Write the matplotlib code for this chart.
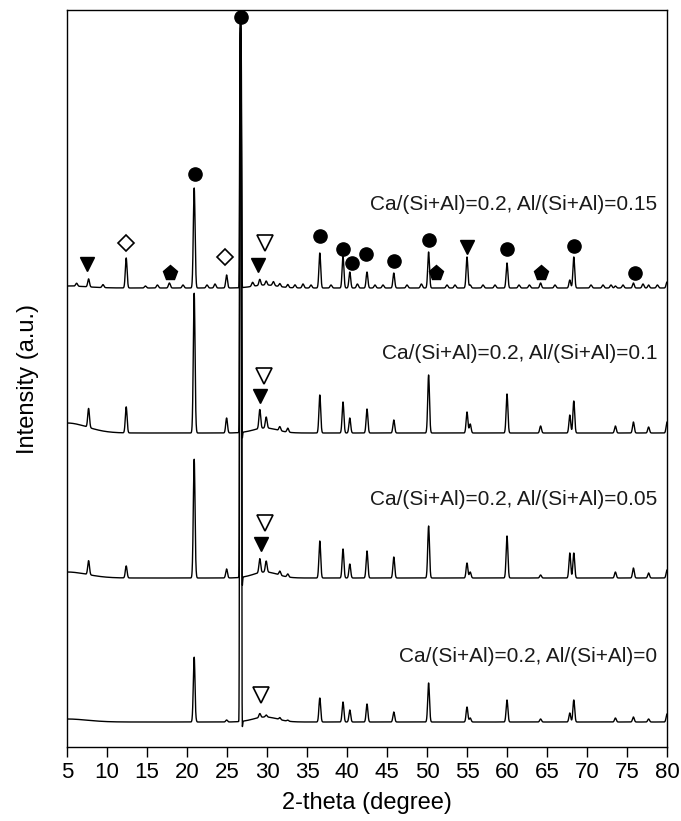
import numpy as np
import matplotlib
matplotlib.use("Agg")
import matplotlib.pyplot as plt

plt.rcParams['font.family'] = ['Liberation Sans', 'DejaVu Sans']

# peak positions (2-theta) shared by all patterns
peak_pos = [7.7, 12.4, 20.9, 24.95, 26.7, 29.1, 29.9, 31.6, 32.6, 36.6, 39.5, 40.35,
            42.5, 45.85, 50.2, 55.0, 55.4, 60.0, 64.2, 67.85, 68.35, 73.55, 75.8, 77.7, 80.0]

# peak heights for each sample (a.u.), same order as peak_pos
h_015 = [8, 30, 100, 13, 271, 6, 4, 3, 3, 35, 32, 16,
         16, 15, 36, 31, 3, 25, 5, 8, 31, 2, 5, 3, 6]
h_010 = [19, 26, 140, 15, 400, 19, 11, 4, 4, 38, 31, 15,
         24, 13, 58, 21, 9, 39, 7, 18, 32, 7, 11, 6, 11]
h_005 = [14, 12, 119, 9, 550, 14, 11, 4, 3, 37, 29, 14,
         27, 21, 52, 15, 6, 42, 3, 25, 25, 6, 10, 5, 8]
h_000 = [0, 0, 65, 2, 700, 4, 2, 2, 1, 24, 20, 12,
         18, 10, 39, 15, 4, 22, 3, 9, 22, 4, 5, 3, 8]

# negative artefacts next to the strong peaks
dip_pos = [21.05, 26.85]
dip_015 = [0, 0]
dip_010 = [-6, -14]
dip_005 = [-6, -20]
dip_000 = [-5, -15]

# broad amorphous hump (~29.5) and low-angle background
hump = [3, 5, 6, 5]
low_bg = [2, 10, 6, 3]

# small bumps in the noisy top pattern
bump_pos = [6.2, 9.5, 14.8, 16.3, 17.8, 19.5, 22.5, 23.5, 28.2, 30.8, 33.5, 34.5,
            35.5, 38.0, 41.3, 43.5, 44.5, 47.5, 49.3, 52.5, 53.5, 57.0, 58.5, 61.5,
            62.8, 66.0, 70.5, 72.0, 73.0, 74.5, 77.0, 78.8]
bump_h = [3, 3, 2, 3, 5, 3, 3, 4, 4, 4, 3, 4,
          3, 3, 4, 3, 3, 3, 4, 3, 3, 3, 3, 3,
          3, 3, 3, 3, 3, 3, 4, 3]

offsets = [459, 314, 169, 25]
labels = ["Ca/(Si+Al)=0.2, Al/(Si+Al)=0.15",
          "Ca/(Si+Al)=0.2, Al/(Si+Al)=0.1",
          "Ca/(Si+Al)=0.2, Al/(Si+Al)=0.05",
          "Ca/(Si+Al)=0.2, Al/(Si+Al)=0"]
label_y = [543, 394, 248, 91]

# phase markers: (2-theta, height)
m_dot = [(21.0, 573), (26.75, 730), (36.6, 511), (39.5, 498), (40.6, 484), (42.4, 493),
         (45.9, 486), (50.25, 507), (60.0, 498), (68.4, 501), (76.0, 474)]
m_tri = [(7.55, 483), (28.9, 482), (55.0, 500), (29.1, 351), (29.25, 203)]
m_otri = [(29.75, 504), (29.67, 371), (29.75, 224), (29.3, 52)]
m_diam = [(12.4, 504), (24.75, 490)]
m_pent = [(17.9, 474), (51.1, 474), (64.2, 474)]

x = np.arange(5, 80.001, 0.01)


def gauss(x, c, s):
    return np.exp(-(x - c) ** 2 / (2 * s * s))


def flat_peak(x, c, s):
    # steep-sided profile so the huge quartz line stays a thick bar
    return np.exp(-0.5 * ((x - c) / s) ** 4)


def pattern(heights, dips, hump_h, bg_h, extra=False):
    y = np.zeros_like(x)
    for c, h in zip(peak_pos, heights):
        if c == 26.7:
            y += h * flat_peak(x, c, 0.12)
        else:
            y += h * gauss(x, c, 0.11)
    for c, h in zip(dip_pos, dips):
        y += h * gauss(x, c, 0.06)
    y += hump_h * gauss(x, 29.8, 1.5)
    y += bg_h * gauss(x, 5, 2.5)
    if extra:
        for c, h in zip(bump_pos, bump_h):
            y += h * gauss(x, c, 0.12)
    return y


fig = plt.figure(figsize=(6.81, 8.21), dpi=100)
ax = fig.add_axes([67 / 681, 1 - 747 / 821, 600 / 681, 737 / 821])

all_h = [h_015, h_010, h_005, h_000]
all_d = [dip_015, dip_010, dip_005, dip_000]
for i in range(4):
    y = pattern(all_h[i], all_d[i], hump[i], low_bg[i], extra=(i == 0))
    ax.plot(x, y + offsets[i], color="black", lw=1.0)
    ax.text(78.75, label_y[i], labels[i], ha="right", va="center",
            fontsize=15, color="#1a1a1a")

ax.plot(*zip(*m_dot), "o", color="black", ms=9.5, ls="none")
ax.plot(*zip(*m_tri), "v", color="black", ms=10, ls="none")
ax.plot(*zip(*m_otri), "v", mfc="white", mec="black", mew=1.2, ms=12, ls="none")
ax.plot(*zip(*m_diam), "D", mfc="white", mec="black", mew=1.2, ms=8, ls="none")
ax.plot(*zip(*m_pent), "p", color="black", ms=11, ls="none")

ax.set_xlim(5, 80)
ax.set_ylim(0, 737)
ax.set_xticks(np.arange(5, 81, 5))
ax.set_yticks([])
ax.tick_params(axis="x", direction="out", length=7, width=1, labelsize=16, pad=4)
for sp in ax.spines.values():
    sp.set_linewidth(1.0)

ax.set_xlabel("2-theta (degree)", fontsize=17, labelpad=6)
ax.set_ylabel("Intensity (a.u.)", fontsize=17, labelpad=20)

fig.savefig("out.png", dpi=100)
